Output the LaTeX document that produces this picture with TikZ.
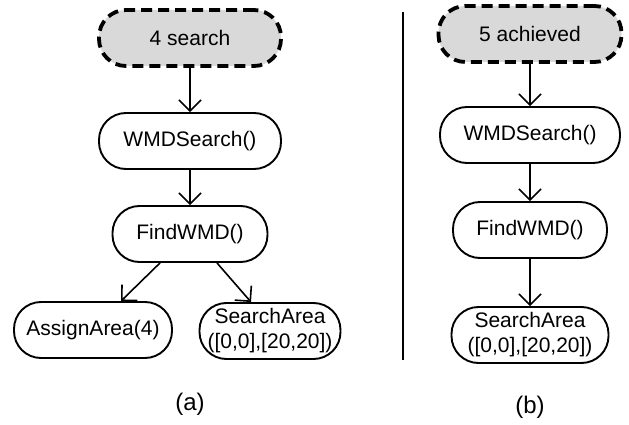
\documentclass[tikz,border=0pt]{standalone}
\usepackage{fontspec}
\setmainfont{Liberation Sans}
\usetikzlibrary{arrows.meta}

\begin{document}
\begin{tikzpicture}[x=1pt, y=-1pt,
    act/.style={draw, line width=1.9pt, rounded corners=27pt, minimum height=56pt,
                inner sep=2pt, align=center, font=\fontsize{21}{25}\selectfont},
    goal/.style={act, fill=black!15, line width=3.8pt, dash pattern=on 11pt off 6pt},
    flow/.style={-{Straight Barb[length=11pt,width=22pt]}, line width=1.6pt}]
                \useasboundingbox (0,0) rectangle (629,425);
                % (a)
                \node[goal, minimum width=182pt] (goalA) at (190,38) {4 search};
                \node[act, minimum width=182pt] (wmdA) at (190,141) {WMDSearch()};
                \node[act, minimum width=155pt] (findA) at (190,234) {FindWMD()};
                \node[act, minimum width=158pt] (assignA) at (93,330) {AssignArea(4)};
                \node[act, minimum width=141pt] (areaA) at (270,331) {SearchArea\\([0,0],[20,20])};
                \node[font=\fontsize{24}{28}\selectfont] (capA) at (190,404) {(a)};
                \draw[flow] (goalA) -- (wmdA);
                \draw[flow] (wmdA) -- (findA);
                \draw[flow] ([xshift=-30pt]findA.south) -- ([xshift=28pt]assignA.north);
                \draw[flow] ([xshift=27pt]findA.south) -- ([xshift=-19pt]areaA.north);
                % divider
                \draw[line width=2.8pt] (403,12) -- (403,360);
                % (b)
                \node[goal, minimum width=183pt] (goalB) at (530,34) {5 achieved};
                \node[act, minimum width=180pt] (wmdB) at (530,135) {WMDSearch()};
                \node[act, minimum width=154pt] (findB) at (530,230) {FindWMD()};
                \node[act, minimum width=157pt] (areaB) at (530,335) {SearchArea\\([0,0],[20,20])};
                \node[font=\fontsize{24}{28}\selectfont] (capB) at (530,407) {(b)};
                \draw[flow] (goalB) -- (wmdB);
                \draw[flow] (wmdB) -- (findB);
                \draw[flow] (findB) -- (areaB);
\end{tikzpicture}
\end{document}
